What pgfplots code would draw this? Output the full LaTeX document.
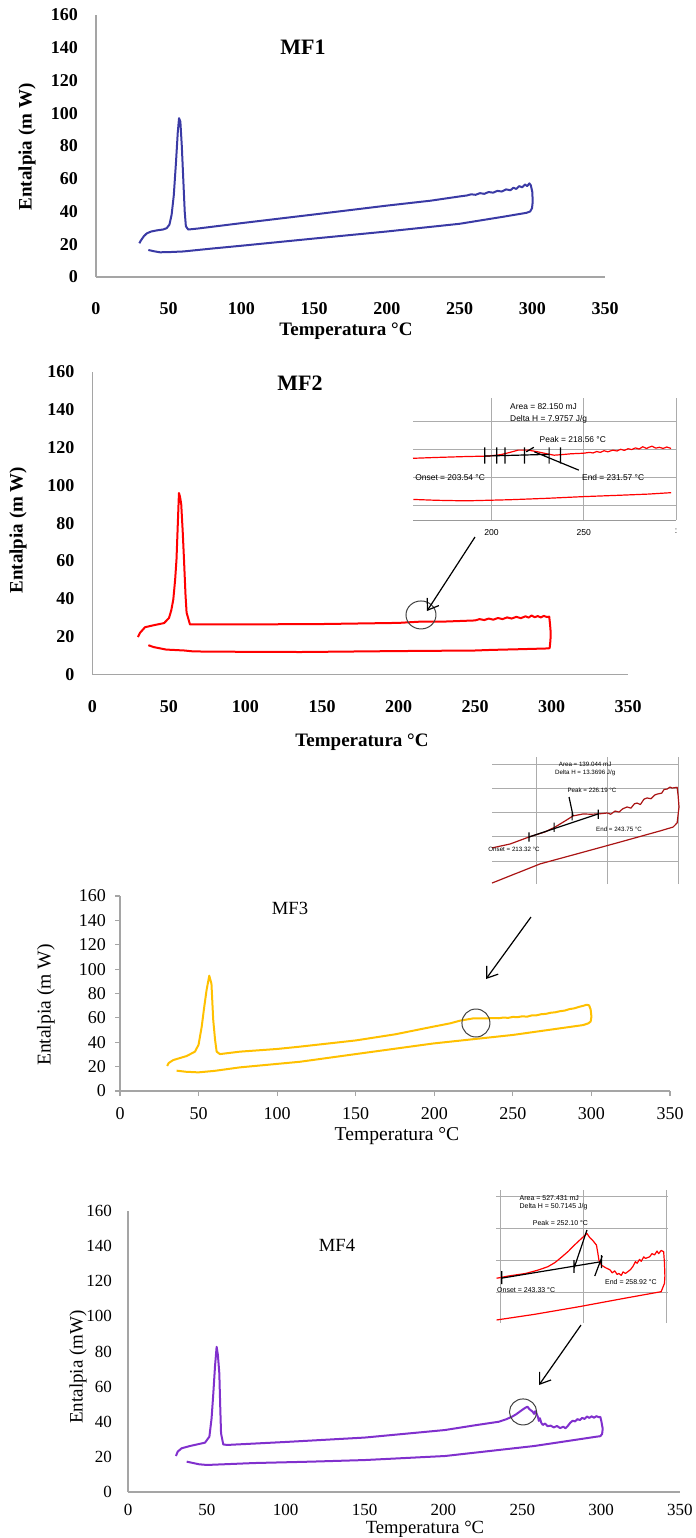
\documentclass[border=0pt]{standalone}
\usepackage{fontspec}
\setmainfont{Liberation Serif}
\newfontfamily\insetfont{Liberation Sans}
\usepackage{pgfplots}
\pgfplotsset{compat=1.18}
\usetikzlibrary{arrows.meta}
\definecolor{mfblue}{RGB}{58,58,165}
\definecolor{mfred}{RGB}{255,0,0}
\definecolor{mfgold}{RGB}{255,192,0}
\definecolor{mfpurple}{RGB}{128,48,205}
\definecolor{insetdark}{RGB}{170,20,20}
\definecolor{axgray}{RGB}{165,165,165}
\pgfplotsset{
  mainax/.style={scale only axis, anchor=south west, clip=false,
    xmin=0, xmax=350, ymin=0, ymax=160,
    xtick={0,50,...,350}, ytick={0,20,...,160},
    axis lines*=left, axis line style={draw=axgray, line width=0.8pt},
    tick style={draw=none},
    /pgf/number format/assume math mode=true},
  insetax/.style={scale only axis, anchor=south west, clip=false,
    axis line style={draw=none}, tick style={draw=none},
    xticklabels={}, yticklabels={},
    grid=major, grid style={draw=gray!65, line width=0.45pt},
    /pgf/number format/assume math mode=true},
  curve/.style={line width=1pt, line join=round},
  icurve/.style={line width=0.6pt, line join=round},
}
\begin{document}
\begin{tikzpicture}[x=0.5pt, y=-0.5pt]
\useasboundingbox (0,0) rectangle (696,1538);
\coordinate (o1) at (96,277);
\coordinate (o2) at (92.5,674.5);
\coordinate (o3) at (120,1091);
\coordinate (o4) at (128,1492);
\coordinate (i2) at (413,520);
\coordinate (i3) at (492,884);
\coordinate (i4) at (496,1323);

% ---------------- MF1 ----------------
\begin{axis}[mainax, at={(o1)}, width=254.5pt, height=131pt,
  xticklabel style={font=\bfseries\fontsize{9}{9}\selectfont, yshift=-9pt},
  yticklabel style={font=\bfseries\fontsize{9}{9}\selectfont, xshift=-5.5pt}]
\addplot[curve, color=mfblue] table {
29.8 20.6
31 22.5
33 25
35 26.7
38 27.8
42 28.5
46 29
48.6 29.8
50.5 32
52 38
53.5 50
55 70
56.2 88
57.1 97
58 95
59 80
60 60
61 40
61.8 31
63.4 29
70 29.6
100 32.9
150 38.2
200 43.6
230 46.6
250 49.2
255 49.8
258 50.5
261 50.2
264 51.2
267 50.8
270 51.9
273 51.5
276 52.6
279 52.2
282 53.5
285 53.0
287 54.5
289 53.8
291 55.5
293 54.8
295 56.5
296.5 55.5
298 57.2
299 56
300 52
300.3 46
299.8 42
298.5 40
296 39.2
280 36.8
250 32.5
200 27.8
150 23.5
100 19.1
80 17.4
60 15.6
50 15.2
44 15.1
40 15.7
36 16.5
};
\end{axis}
\node[font=\bfseries\fontsize{11}{11}\selectfont] at (303,47) {MF1};
\node[rotate=90, font=\bfseries\fontsize{9.5}{9.5}\selectfont] at (27,147) {Entalpia (m W)};
\node[font=\bfseries\fontsize{9.5}{9.5}\selectfont] at (346,331) {Temperatura °C};

% ---------------- MF2 ----------------
\begin{axis}[mainax, at={(o2)}, width=267.75pt, height=151.25pt,
  xticklabel style={font=\bfseries\fontsize{9}{9}\selectfont, yshift=-9.5pt},
  yticklabel style={font=\bfseries\fontsize{9}{9}\selectfont, xshift=-5.5pt}]
\addplot[curve, color=mfred] table {
29.7 19.8
31 22
34.3 25
39.6 26
46.8 27.2
50 29.9
51.5 34
52.8 39.6
54 50
54.9 60.8
56 85
56.5 96
57.2 94
58 90
59 75
59.8 60.8
60.8 42
61.5 32.7
63.7 26.5
100 26.5
150 26.7
200 27.3
215 28
230 28
250 28.6
253 29.3
256 28.8
259 29.6
262 29.0
265 29.9
268 29.3
271 30.2
274 29.6
277 30.5
280 29.8
283 30.8
285 30.1
287 31.2
289 30.3
291 30.9
293 30.2
295 31.0
297 30.4
298.5 30.6
299 27
299.5 22
299.3 18
298.8 14
298 13.8
280 13.4
260 13.0
250 12.7
200 12.4
136 11.9
100 12.0
66 12.2
60 12.7
48 13.2
40 14.5
36.5 15.5
};
\draw[black!75, line width=0.5pt] (axis cs:214.7,31.5) ellipse [x radius=7.5pt, y radius=7pt];
\end{axis}
\node[font=\bfseries\fontsize{11}{11}\selectfont] at (300,383) {MF2};
\node[rotate=90, font=\bfseries\fontsize{9.5}{9.5}\selectfont] at (18,530) {Entalpia (m W)};
\node[font=\bfseries\fontsize{9.5}{9.5}\selectfont] at (362,742) {Temperatura °C};

% MF2 inset
\begin{axis}[insetax, at={(i2)}, width=131.5pt, height=61pt,
  xmin=157.4, xmax=300, ymin=-0.5, ymax=3.83,
  xtick={200,250,300}, ytick={0,1,2,3},
  xticklabels={200,250,:},
  axis x line*=bottom, axis y line*=left,
  x axis line style={draw=gray!80, line width=0.5pt},
  xticklabel style={font=\insetfont\fontsize{4.3}{4.3}\selectfont, yshift=-1pt}]
\addplot[icurve, color=mfred] table {
157.4 1.69
170 1.72
185 1.75
198.4 1.77
205 1.82
210 1.90
214.4 1.98
220 1.98
225 1.92
230 1.85
233.9 1.80
238 1.82
243 1.85
249.8 1.87
253 1.90
255 1.88
257 1.93
259 1.90
261 1.96
263 1.92
265.8 1.98
268 1.95
270 2.01
272 1.97
274 2.03
276 2.00
278 2.06
280 2.02
282 2.10
284 2.04
285.3 2.08
287 2.12
289 2.05
291 2.08
293 2.04
295 2.09
297.3 2.04
};
\addplot[icurve, color=mfred] table {
157.6 0.23
170 0.20
186 0.18
210 0.22
230 0.27
249.8 0.33
270 0.38
285 0.42
297.3 0.47
};
\addplot[black, line width=0.6pt, unbounded coords=jump] coordinates {
(196.3,1.77) (231.2,1.83) (nan,nan)
(218.8,1.92) (222.9,2.08) (nan,nan)
(223.2,1.92) (247.3,1.27) (nan,nan)
(196.3,1.5) (196.3,2.08) (nan,nan)
(202.8,1.5) (202.8,2.08) (nan,nan)
(207.3,1.5) (207.3,2.08) (nan,nan)
(217.9,1.5) (217.9,2.08) (nan,nan)
(231.2,1.5) (231.2,2.08) (nan,nan)
(237.4,1.5) (237.4,2.08)
};
\begin{scope}[font=\insetfont\fontsize{4.2}{4.2}\selectfont]
\node[anchor=west, inner sep=0] at (axis cs:209.9,3.52) {Area = 82.150 mJ};
\node[anchor=west, inner sep=0] at (axis cs:209.9,3.07) {Delta H = 7.9757 J/g};
\node[anchor=west, inner sep=0] at (axis cs:225.9,2.34) {Peak = 218.56 °C};
\node[anchor=west, inner sep=0] at (axis cs:158.5,1.01) {Onset = 203.54 °C};
\node[anchor=west, inner sep=0] at (axis cs:248.9,1.01) {End = 231.57 °C};
\end{scope}
\end{axis}
\draw[-{Straight Barb[length=5pt,width=7pt]}, line width=0.6pt] (475,537) -- (427,611);

% ---------------- MF3 ----------------
\begin{axis}[mainax, at={(o3)}, width=275pt, height=97.5pt,
  tick style={draw=axgray, line width=0.6pt}, tick align=outside, major tick length=2.5pt,
  xticklabel style={font=\fontsize{9}{9}\selectfont, yshift=-2pt},
  yticklabel style={font=\fontsize{9}{9}\selectfont, xshift=-1pt}]
\addplot[curve, color=mfgold] table {
30 20.5
31 23
33.9 25.4
38 27
42.4 28.7
47.7 32.3
50 38
52 52.8
53.5 68
55.1 82.9
56.8 94.6
58.2 88
59.3 58.7
60.5 42
61.5 32.3
63.6 30.3
76.3 32.3
100 34.5
114.5 36.4
150 41.5
175 46.5
199.3 52.8
210 55.5
216.3 57.7
224.8 59.6
233 59.6
238 59.9
241 59.7
244 60.3
247 60.0
250 60.8
253 60.6
256 61.3
259 61.0
262 62.0
265 62.1
268 63.0
271 63.3
274 64.2
277 64.6
280 65.5
283 66.0
286 67.2
289 67.8
292 69.0
295 70.0
297 70.8
298.5 70.3
299.5 67
300 61
299.5 57
298 55.5
294.7 54.1
250 46
199.3 39
150 30.3
114.5 24
76.3 19.4
60 16.5
49.8 15.3
42 15.8
36 16.7
};
\draw[black!75, line width=0.5pt] (axis cs:226.5,55.8) ellipse [x radius=7pt, y radius=7pt];
\end{axis}
\node[font=\fontsize{9.3}{9.3}\selectfont] at (290,908) {MF3};
\node[rotate=90, font=\fontsize{9.8}{9.8}\selectfont] at (46,1005) {Entalpia (m W)};
\node[font=\fontsize{9.8}{9.8}\selectfont] at (397,1136) {Temperatura °C};

% MF3 inset
\begin{axis}[insetax, at={(i3)}, width=93.75pt, height=63.5pt,
  xmin=201.4, xmax=280.5, ymin=-0.95, ymax=4.29,
  xtick={220,250,280}, ytick={0,1,2,3,4}]
\addplot[icurve, color=insetdark] table {
201.4 0.54
209.0 0.70
217.0 0.99
223.8 1.20
228.0 1.40
232.2 1.65
235.6 1.86
239.8 1.94
243 1.93
246.2 1.94
250.0 1.98
251.5 1.93
253.3 2.06
255 2.02
256.5 2.15
258.4 2.23
260 2.18
261.5 2.36
262.6 2.39
264 2.33
265.5 2.55
266.8 2.60
268.5 2.57
270 2.72
271.1 2.76
273 2.80
274 2.95
275.3 2.97
276.5 3.05
277.4 3.01
279.5 3.04
279.9 2.72
280.3 2.23
279.5 1.57
277.8 1.40
272.3 1.24
255.4 0.78
238.6 0.33
221.7 -0.12
201.4 -0.91
};
\addplot[black, line width=0.6pt, unbounded coords=jump] coordinates {
(217.0,0.99) (246.2,1.94) (nan,nan)
(233.9,2.64) (235.6,1.86) (nan,nan)
(217.0,0.8) (217.0,1.18) (nan,nan)
(227.6,1.2) (227.6,1.58) (nan,nan)
(235.2,1.68) (235.2,2.06) (nan,nan)
(246.2,1.74) (246.2,2.12)
};
\begin{scope}[font=\insetfont\fontsize{3.1}{3.1}\selectfont]
\node[inner sep=0] at (axis cs:240.7,4.0) {Area = 139.044 mJ};
\node[inner sep=0] at (axis cs:240.7,3.63) {Delta H = 13.3696 J/g};
\node[inner sep=0] at (axis cs:243.6,2.93) {Peak = 226.19 °C};
\node[inner sep=0] at (axis cs:255,1.32) {End = 243.75 °C};
\node[inner sep=0] at (axis cs:210.7,0.49) {Onset = 213.32 °C};
\end{scope}
\end{axis}
\draw[-{Straight Barb[length=5pt,width=7pt]}, line width=0.6pt] (531,917) -- (486,979);

% ---------------- MF4 ----------------
\begin{axis}[mainax, at={(o4)}, width=276pt, height=140.5pt,
  xticklabel style={font=\fontsize{8.5}{8.5}\selectfont, yshift=-2.5pt},
  yticklabel style={font=\fontsize{8.5}{8.5}\selectfont, xshift=-4.5pt}]
\addplot[curve, color=mfpurple] table {
30.4 20.5
31.5 23
34 24.9
39.3 26.2
48.8 28.1
51.6 31.5
53 42
54.1 56.2
55.2 72
56.2 82.7
57 78
57.9 67.6
58.5 48
59 33.4
60.4 27.1
62.8 26.8
100 28.5
150 31
201 35.3
220 38
235 40
240 41.5
243.5 42.9
246 44.2
248 45.5
250 46.8
252 48
253.3 48.6
254.5 47.2
255.5 46.5
256.5 45.8
257.5 44.5
258.2 46
259 44.8
260 42.5
260.5 40.5
261.2 42
262 39.5
263 38.2
264.5 39
266 37.5
268 37.8
270 36.8
272 37.6
274 36.4
276 37.2
277.4 36.3
279 37.8
280.5 39.5
282 40.6
283.5 40.2
285 41.5
286.5 41
288 42.2
289.5 41.6
291 43
292.5 42.2
294 43.1
295.5 42.3
297 43.2
298.5 42.6
299.5 42.8
300.2 40
301 36
300.6 33
299.5 31.8
297 31.5
257.6 26.2
201 20.5
150 18.2
116.4 17.3
80 16.5
50 15.4
45 15.8
37.2 17.3
};
\draw[black!75, line width=0.5pt] (axis cs:250.5,45.6) ellipse [x radius=6.8pt, y radius=6.5pt];
\end{axis}
\node[font=\fontsize{9.3}{9.3}\selectfont] at (337,1245) {MF4};
\node[rotate=90, font=\fontsize{9.5}{9.5}\selectfont] at (78,1367) {Entalpia (mW)};
\node[font=\fontsize{9.3}{9.3}\selectfont] at (425,1529) {Temperatura °C};

% MF4 inset
\begin{axis}[insetax, at={(i4)}, width=85.9pt, height=66.5pt,
  xmin=239.5, xmax=260.2, ymin=-0.97, ymax=3.19,
  xtick={240,250,260}, ytick={0,1,2,3}]
\addplot[icurve, color=mfred] table {
239.57 0.43
241 0.50
243.06 0.58
244.5 0.68
245.74 0.79
246.6 0.92
247.35 1.08
248.2 1.27
248.96 1.47
249.7 1.65
250.46 1.83
250.8 1.70
251.1 1.63
251.35 1.55
251.6 1.47
251.75 1.25
251.9 1.00
252.05 0.92
252.2 0.84
252.7 0.76
253.25 0.69
253.5 0.60
253.8 0.66
254.1 0.55
254.3 0.58
254.6 0.52
254.8 0.63
255.1 0.58
255.4 0.64
255.7 0.70
256 0.80
256.3 0.95
256.5 0.90
256.8 1.02
257 0.96
257.3 1.10
257.5 1.05
258 1.10
258.3 1.20
258.6 1.16
258.9 1.28
259.1 1.20
259.4 1.30
259.7 1.26
259.8 0.90
259.85 0.50
259.8 0.27
259.4 0.01
254.9 -0.20
249.5 -0.46
244.1 -0.70
239.57 -0.875
};
\addplot[black, line width=0.6pt, unbounded coords=jump] coordinates {
(240.1,0.43) (252.2,0.95) (nan,nan)
(248.9,0.74) (250.46,1.94) (nan,nan)
(251.4,0.50) (252.3,1.12) (nan,nan)
(240.2,0.25) (240.2,0.65) (nan,nan)
(248.9,0.6) (248.9,1.0) (nan,nan)
(252.2,0.75) (252.2,1.15)
};
\begin{scope}[font=\insetfont\fontsize{3.5}{3.5}\selectfont]
\node[anchor=west, inner sep=0] at (axis cs:242.3,2.94) {Area = 527.431 mJ};
\node[anchor=west, inner sep=0] at (axis cs:242.3,2.66) {Delta H = 50.7145 J/g};
\node[anchor=west, inner sep=0] at (axis cs:243.9,2.16) {Peak = 252.10 °C};
\node[anchor=west, inner sep=0] at (axis cs:252.6,0.31) {End = 258.92 °C};
\node[anchor=west, inner sep=0] at (axis cs:239.6,0.06) {Onset = 243.33 °C};
\end{scope}
\end{axis}
\draw[-{Straight Barb[length=5pt,width=7pt]}, line width=0.6pt] (581,1325) -- (539,1385);
\end{tikzpicture}
\end{document}
